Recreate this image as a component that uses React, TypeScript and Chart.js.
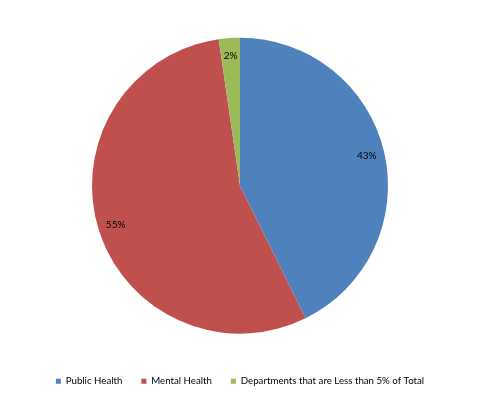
import React, { useEffect, useRef } from "react";
import { Chart, registerables } from "chart.js";

Chart.register(...registerables);

const categories = ["Public Health", "Mental Health", "Departments that are Less than 5% of Total"];
const values = [42.7, 55.0, 2.3];
const valueLabels = ["43%", "55%", "2%"];
const colors = ["#4F81BD", "#C0504D", "#9BBB59"];

const sliceLabels = {
  id: "sliceLabels",
  afterDatasetsDraw(chart: any) {
    const ctx = chart.ctx;
    const meta = chart.getDatasetMeta(0);
    ctx.save();
    ctx.font = "10px Lato, 'Liberation Sans', sans-serif";
    ctx.fillStyle = "#000";
    ctx.textAlign = "center";
    ctx.textBaseline = "middle";
    meta.data.forEach((arc: any, i: number) => {
      const { x, y, startAngle, endAngle, outerRadius } = arc.getProps(
        ["x", "y", "startAngle", "endAngle", "outerRadius"],
        true
      );
      const mid = (startAngle + endAngle) / 2;
      const r = outerRadius * 0.88;
      ctx.fillText(valueLabels[i], x + Math.cos(mid) * r, y + Math.sin(mid) * r);
    });
    ctx.restore();
  },
};

export default function App() {
  const ref = useRef<HTMLCanvasElement>(null);
  useEffect(() => {
    document.body.style.margin = "0";
    const chart = new Chart(ref.current!, {
      type: "pie",
      data: {
        labels: categories,
        datasets: [
          {
            data: values,
            backgroundColor: colors,
            borderWidth: 0,
          },
        ],
      },
      options: {
        responsive: false,
        animation: false,
        radius: 148,
        layout: { padding: { left: 0, right: 0, top: 14, bottom: 4 } },
        plugins: {
          legend: {
            position: "bottom",
            labels: {
              boxWidth: 5,
              boxHeight: 5,
              padding: 19,
              color: "#000",
              font: { family: "Lato, 'Liberation Sans', sans-serif", size: 9.7 },
            },
          },
          tooltip: { enabled: false },
        },
      } as any,
      plugins: [sliceLabels],
    });
    return () => chart.destroy();
  }, []);
  return (
    <div style={{ width: 480, height: 400, background: "#fff" }}>
      <canvas ref={ref} width={480} height={400} />
    </div>
  );
}
